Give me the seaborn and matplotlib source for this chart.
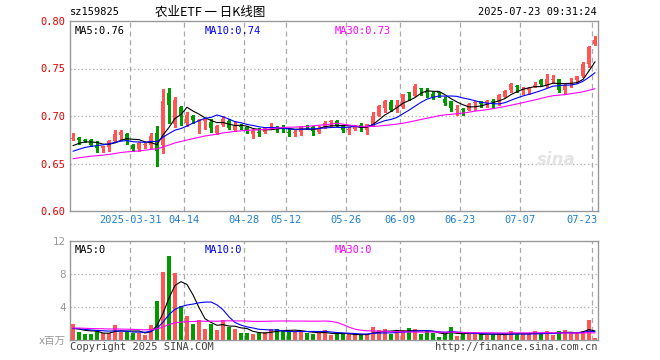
import numpy as np
import pandas as pd
import matplotlib
matplotlib.use("Agg")
import matplotlib.pyplot as plt
import matplotlib.transforms as mtransforms
import seaborn as sns

# trading days shown in the chart
dates = ['2025-03-17', '2025-03-18', '2025-03-19', '2025-03-20', '2025-03-21', '2025-03-24', '2025-03-25',
         '2025-03-26', '2025-03-27', '2025-03-28', '2025-03-31',
         '2025-04-01', '2025-04-02', '2025-04-03', '2025-04-07', '2025-04-08', '2025-04-09', '2025-04-10',
         '2025-04-11', '2025-04-14', '2025-04-15', '2025-04-16', '2025-04-17', '2025-04-18', '2025-04-21',
         '2025-04-22', '2025-04-23', '2025-04-24', '2025-04-25', '2025-04-28', '2025-04-29', '2025-04-30',
         '2025-05-06', '2025-05-07', '2025-05-08', '2025-05-09', '2025-05-12', '2025-05-13', '2025-05-14',
         '2025-05-15', '2025-05-16', '2025-05-19', '2025-05-20', '2025-05-21', '2025-05-22', '2025-05-23',
         '2025-05-26', '2025-05-27', '2025-05-28', '2025-05-29', '2025-05-30',
         '2025-06-03', '2025-06-04', '2025-06-05', '2025-06-06', '2025-06-09', '2025-06-10', '2025-06-11',
         '2025-06-12', '2025-06-13', '2025-06-16', '2025-06-17', '2025-06-18', '2025-06-19', '2025-06-20',
         '2025-06-23', '2025-06-24', '2025-06-25', '2025-06-26', '2025-06-27', '2025-06-30',
         '2025-07-01', '2025-07-02', '2025-07-03', '2025-07-04', '2025-07-07', '2025-07-08', '2025-07-09',
         '2025-07-10', '2025-07-11', '2025-07-14', '2025-07-15', '2025-07-16', '2025-07-17', '2025-07-18',
         '2025-07-21', '2025-07-22', '2025-07-23']

open_ = [0.676, 0.677, 0.675, 0.675, 0.668, 0.6665, 0.667, 0.674, 0.680, 0.6815,
         0.670, 0.665, 0.669, 0.669, 0.682, 0.670, 0.724, 0.692, 0.710, 0.693,
         0.700, 0.6945, 0.695, 0.694, 0.6823, 0.691, 0.695, 0.6857, 0.6895, 0.688,
         0.6806, 0.683, 0.6833, 0.689, 0.6885, 0.688, 0.683, 0.6825, 0.683, 0.6895,
         0.688, 0.6833, 0.688, 0.6935, 0.695, 0.690, 0.6854, 0.6865, 0.6906, 0.6854,
         0.6906, 0.7003, 0.708, 0.715, 0.708, 0.7097, 0.7253, 0.7212, 0.7292, 0.7257,
         0.7233, 0.7248, 0.7177, 0.7153, 0.7066, 0.7073, 0.7066, 0.7135, 0.7153, 0.7142,
         0.7153, 0.7153, 0.7205, 0.7274, 0.7316, 0.7278, 0.7274, 0.731, 0.7378, 0.7326,
         0.7382, 0.7385, 0.7274, 0.7344, 0.7378, 0.742, 0.7545, 0.7753]
high = [0.682, 0.678, 0.676, 0.676, 0.674, 0.668, 0.675, 0.685, 0.685, 0.682,
        0.671, 0.673, 0.672, 0.6816, 0.690, 0.728, 0.730, 0.720, 0.711, 0.704,
        0.701, 0.697, 0.698, 0.697, 0.691, 0.700, 0.697, 0.6945, 0.692, 0.689,
        0.6858, 0.6875, 0.688, 0.6927, 0.689, 0.691, 0.6875, 0.685, 0.690, 0.691,
        0.689, 0.6892, 0.695, 0.696, 0.696, 0.691, 0.688, 0.691, 0.6924, 0.6913,
        0.7045, 0.712, 0.7167, 0.7167, 0.7167, 0.7236, 0.7253, 0.7337, 0.7292, 0.7299,
        0.7257, 0.7257, 0.7198, 0.716, 0.7118, 0.7083, 0.7142, 0.7153, 0.716, 0.717,
        0.7177, 0.7233, 0.7274, 0.735, 0.7326, 0.7302, 0.7309, 0.7361, 0.7389, 0.7441,
        0.743, 0.7385, 0.7344, 0.7396, 0.742, 0.757, 0.7736, 0.784]
low = [0.675, 0.671, 0.673, 0.668, 0.662, 0.662, 0.663, 0.673, 0.675, 0.671,
       0.663, 0.663, 0.666, 0.666, 0.647, 0.661, 0.693, 0.688, 0.691, 0.689,
       0.693, 0.6826, 0.686, 0.683, 0.681, 0.690, 0.686, 0.684, 0.686, 0.682,
       0.6764, 0.679, 0.6823, 0.6858, 0.683, 0.6835, 0.679, 0.679, 0.680, 0.6865,
       0.680, 0.682, 0.6875, 0.689, 0.689, 0.683, 0.681, 0.685, 0.6837, 0.681,
       0.689, 0.700, 0.704, 0.705, 0.7045, 0.7087, 0.7167, 0.721, 0.722, 0.7205,
       0.7177, 0.720, 0.7118, 0.7049, 0.7014, 0.7014, 0.706, 0.7066, 0.710, 0.710,
       0.710, 0.7118, 0.7198, 0.7257, 0.7257, 0.7233, 0.7233, 0.7302, 0.7326, 0.7309,
       0.7344, 0.7257, 0.7233, 0.7309, 0.7344, 0.7406, 0.7517, 0.7743]
close = [0.677, 0.675, 0.674, 0.669, 0.666, 0.668, 0.674, 0.6815, 0.683, 0.674,
         0.665, 0.672, 0.670, 0.679, 0.663, 0.716, 0.712, 0.717, 0.700, 0.701,
         0.696, 0.696, 0.697, 0.687, 0.689, 0.697, 0.687, 0.690, 0.6885, 0.684,
         0.6847, 0.6825, 0.6875, 0.6893, 0.688, 0.6875, 0.6825, 0.683, 0.690, 0.689,
         0.6847, 0.6875, 0.6927, 0.694, 0.690, 0.6854, 0.6865, 0.690, 0.6878, 0.6913,
         0.7003, 0.7108, 0.7156, 0.706, 0.7115, 0.7236, 0.7245, 0.7313, 0.7288, 0.7247,
         0.7205, 0.7243, 0.7135, 0.7083, 0.7069, 0.7062, 0.7128, 0.7146, 0.7128, 0.7153,
         0.7149, 0.7222, 0.7267, 0.7337, 0.7302, 0.7281, 0.7299, 0.7326, 0.7337, 0.7385,
         0.7385, 0.7274, 0.7326, 0.735, 0.742, 0.7552, 0.7726, 0.7805]
# volume in millions
volume = [2.0, 0.96, 0.68, 0.68, 1.08, 0.8, 0.88, 1.76, 0.96, 0.96,
          0.88, 0.88, 0.56, 1.76, 4.68, 8.28, 10.16, 8.16, 4.08, 2.96,
          2.0, 2.48, 1.36, 1.88, 1.2, 2.4, 1.6, 1.28, 0.88, 0.8,
          0.68, 0.88, 0.96, 1.36, 1.36, 1.08, 1.08, 1.08, 1.08, 0.8,
          0.68, 0.8, 1.2, 0.56, 0.68, 0.68, 0.68, 0.68, 0.56, 0.68,
          1.6, 1.16, 1.28, 0.68, 1.08, 1.16, 1.4, 1.28, 0.68, 1.08,
          0.88, 0.4, 0.68, 1.56, 0.48, 0.68, 0.8, 0.8, 0.68, 0.56,
          0.68, 0.68, 0.68, 1.08, 0.68, 0.68, 0.68, 1.08, 0.68, 1.08,
          0.56, 1.08, 1.16, 0.8, 0.8, 1.08, 2.48, 0.28]

# sessions before the visible window (estimated from where the MA lines start)
hist_close = [0.646, 0.648, 0.645, 0.649, 0.652, 0.650, 0.653, 0.651, 0.654, 0.652,
              0.655, 0.650, 0.648, 0.651, 0.653, 0.652, 0.650, 0.654, 0.656, 0.653,
              0.654, 0.655, 0.658, 0.657, 0.661, 0.663, 0.666, 0.670, 0.668]
hist_volume = [1.6, 1.3, 1.8, 1.5, 1.2, 1.7, 1.4, 1.6, 1.3, 1.5,
               1.9, 1.4, 1.2, 1.6, 1.5, 1.3, 1.7, 1.4, 1.5, 1.6,
               1.3, 1.5, 1.4, 1.6, 1.2, 1.3, 1.5, 1.0, 1.2]

tick_dates = ['2025-03-31', '2025-04-14', '2025-04-28', '2025-05-12', '2025-05-26',
              '2025-06-09', '2025-06-23', '2025-07-07', '2025-07-23']
tick_labels = ['2025-03-31', '04-14', '04-28', '05-12', '05-26', '06-09', '06-23', '07-07', '07-23']
price_ma_text = ['MA5:0.76', 'MA10:0.74', 'MA30:0.73']
vol_ma_text = ['MA5:0', 'MA10:0', 'MA30:0']

RED = '#ff5555'
GREEN = '#009a00'
GRID = '#aaaaaa'
FRAME = '#999999'
MA_COLORS = ['black', '#0000ff', '#ff00ff']

sns.set_theme(style='white')
plt.rcParams['font.family'] = ['DejaVu Sans Mono', 'Noto Sans CJK SC']

n = len(dates)
x = np.arange(n)
df = pd.DataFrame({'date': dates, 'open': open_, 'high': high, 'low': low,
                   'close': close, 'volume': volume})
df['up'] = df['close'] >= df['open']
colors = np.where(df['up'], RED, GREEN)

full_close = pd.Series(hist_close + close)
full_vol = pd.Series(hist_volume + volume)
nh = len(hist_close)
for w in (5, 10, 30):
    df[f'ma{w}'] = full_close.rolling(w).mean().iloc[nh:].values
    df[f'vma{w}'] = full_vol.rolling(w).mean().iloc[nh:].values
df['x'] = x

fig = plt.figure(figsize=(6.6, 3.6), dpi=100)
W, H = 660, 360
ax = fig.add_axes([70 / W, 1 - 211 / H, 528 / W, 190 / H])
axv = fig.add_axes([70 / W, 1 - 340 / H, 528 / W, 99 / H])

grid_x = [dates.index(d) - 0.5 for d in tick_dates]

for a in (ax, axv):
    a.set_xlim(-0.5, n - 0.5)
    a.set_facecolor('white')
    for s in a.spines.values():
        s.set_color(FRAME)
        s.set_linewidth(1)
    for gx in grid_x:
        a.axvline(gx, color=GRID, lw=0.9, ls=(0, (4, 3)), zorder=0)
    a.set_xticks([])
    a.tick_params(axis='y', length=0, pad=3)

# --- price panel
body_lo = np.minimum(df['open'], df['close'])
body_h = np.maximum(np.abs(df['close'] - df['open']), 0.0008)
ax.vlines(x, df['low'], df['high'], colors=colors, lw=1, zorder=2, antialiased=False)
ax.bar(x, body_h, bottom=body_lo, width=0.82, color=colors, lw=0, zorder=3, antialiased=False)
for w, c in zip((5, 10, 30), MA_COLORS):
    sns.lineplot(data=df, x='x', y=f'ma{w}', ax=ax, color=c, lw=0.8, zorder=4)
ax.set_ylim(0.60, 0.80)
pt = [0.60, 0.65, 0.70, 0.75, 0.80]
ax.set_yticks(pt)
ax.set_yticklabels([f'{v:.2f}' for v in pt], color='#e80000', fontsize=7.5)
for v in pt[1:-1]:
    ax.axhline(v, color=GRID, lw=0.9, ls=(0, (1, 2)), zorder=0)
ax.set_xlabel('')
ax.set_ylabel('')

dtrans = mtransforms.blended_transform_factory(ax.transData, ax.transAxes)
for gx, lab in zip(grid_x, tick_labels):
    if lab == tick_labels[-1]:
        ax.text(n - 0.5, -0.045, lab, transform=dtrans, ha='right', va='center',
                color='#1e7fd2', fontsize=7.5)
    else:
        ax.text(gx, -0.045, lab, transform=dtrans, ha='center', va='center',
                color='#1e7fd2', fontsize=7.5)

label_x = [5 / 528, 135 / 528, 265 / 528]
for lx, t, c in zip(label_x, price_ma_text, MA_COLORS):
    ax.text(lx, 0.975, t, transform=ax.transAxes, ha='left', va='top', color=c, fontsize=7.5)

ax.text(0.92, 0.27, 'sina', transform=ax.transAxes, ha='center', va='center',
        color='#e4e4e4', fontsize=12, fontweight='bold', style='italic',
        family='DejaVu Sans', zorder=1)

# --- volume panel
axv.bar(x, df['volume'], width=0.82, color=colors, lw=0, zorder=2, antialiased=False)
for w, c in zip((5, 10, 30), MA_COLORS):
    sns.lineplot(data=df, x='x', y=f'vma{w}', ax=axv, color=c, lw=0.8, zorder=4)
axv.set_ylim(0, 12)
axv.set_yticks([0, 4, 8, 12])
axv.set_yticklabels(['x百万', '4', '8', '12'], color='#999999', fontsize=7.5,
                    family=['DejaVu Sans', 'Noto Sans CJK SC'])
for v in (4, 8):
    axv.axhline(v, color=GRID, lw=0.9, ls=(0, (1, 2)), zorder=0)
axv.set_xlabel('')
axv.set_ylabel('')
for lx, t, c in zip(label_x, vol_ma_text, MA_COLORS):
    axv.text(lx, 0.96, t, transform=axv.transAxes, ha='left', va='top', color=c, fontsize=7.5)

# --- header / footer
fig.text(70 / W, 1 - 12 / H, 'sz159825', ha='left', va='center', fontsize=7.5, color='black')
fig.text(210 / W, 1 - 12 / H, '农业ETF 一 日K线图', ha='center', va='center', fontsize=9,
         color='black', family=['Noto Sans CJK SC'])
fig.text(597 / W, 1 - 12 / H, '2025-07-23 09:31:24', ha='right', va='center', fontsize=7.5,
         color='black')
fig.text(70 / W, 1 - 347 / H, 'Copyright 2025 SINA.COM', ha='left', va='center', fontsize=7.5,
         color='#444444')
fig.text(597 / W, 1 - 347 / H, 'http://finance.sina.com.cn', ha='right', va='center',
         fontsize=7.5, color='#444444')

fig.savefig('out.png', dpi=100)
